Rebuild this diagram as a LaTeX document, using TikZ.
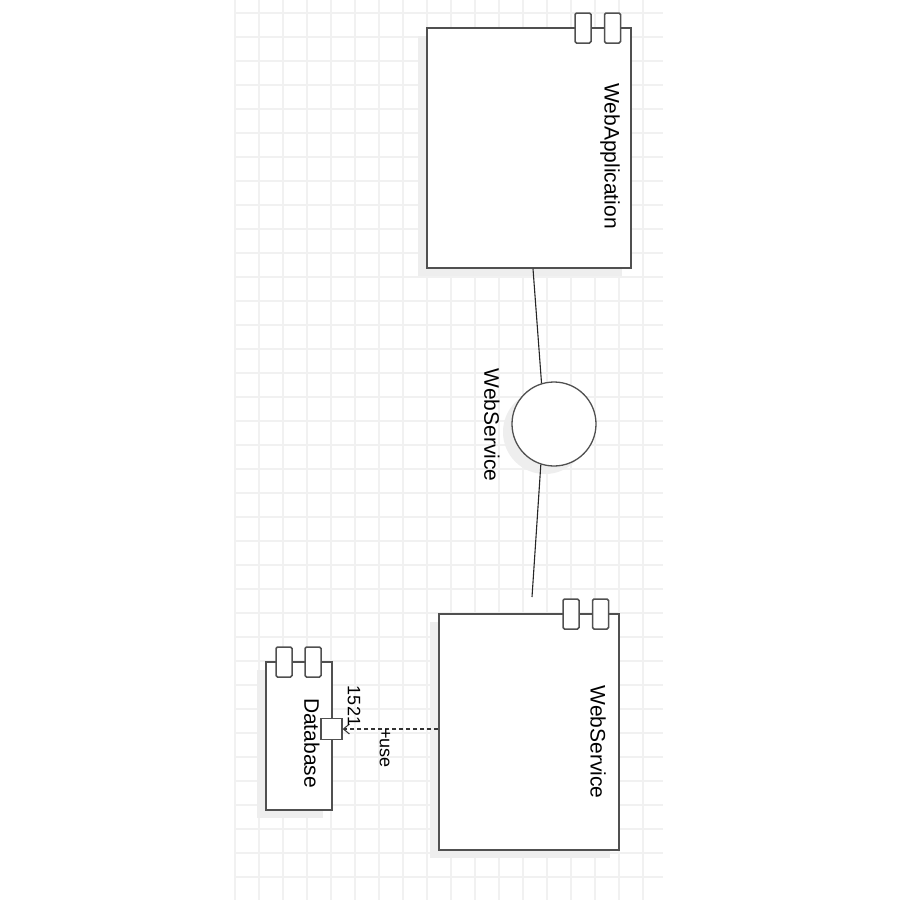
\documentclass[tikz,border=0pt]{standalone}
\usepackage{fontspec}
\setmainfont{Liberation Sans}
\usetikzlibrary{shadows,arrows.meta,calc}
\definecolor{bordercol}{HTML}{505050}
\definecolor{gridcol}{HTML}{F1F1F1}
\definecolor{shadowcol}{HTML}{EEEEEE}
\tikzset{
  gridline/.style={draw=gridcol, line width=1.1pt},
  shadowed/.style={drop shadow={shadow xshift=-9pt, shadow yshift=-8pt, fill=shadowcol, opacity=1}},
  comp/.style={draw=bordercol, line width=1.5pt, fill=white, inner sep=0pt, shadowed},
  tab/.style={draw=bordercol, line width=1.5pt, fill=white, inner sep=0pt, rounded corners=1.5pt, minimum width=16pt, minimum height=30pt},
  iface/.style={circle, draw=bordercol, line width=1.3pt, fill=white, inner sep=0pt, minimum size=84pt, shadowed},
  portbox/.style={draw=bordercol, line width=1.3pt, fill=white, inner sep=0pt, minimum size=21pt},
  vlabel/.style={rotate=-90, inner sep=0pt, font=\fontsize{21}{24}\selectfont},
  slabel/.style={rotate=-90, inner sep=0pt, font=\fontsize{18}{21}\selectfont},
  conn/.style={draw=black!85, line width=1.1pt},
  dep/.style={draw=black!80, line width=1.1pt, dash pattern=on 4pt off 3pt, -{Straight Barb[length=6pt, width=10pt, line width=1pt]}}
}
\begin{document}
\begin{tikzpicture}[x=1pt, y=-1pt]
\useasboundingbox (0,0) rectangle (900,900);
\fill[white] (0,0) rectangle (900,900);
% grid
\foreach \k in {0,...,17} { \draw[gridline] (235+24*\k,0) -- (235+24*\k,900); }
\foreach \k in {0,...,37} { \draw[gridline] (235,13+24*\k) -- (663,13+24*\k); }

% WebApplication component
\node[comp, minimum width=204pt, minimum height=240pt] (webapp) at (529,148) {};
\node[tab] (webapptabA) at (583,28) {};
\node[tab] (webapptabB) at (612.5,28) {};
\node[vlabel] (webapplabel) at (610,156) {WebApplication};

% interface
\node[iface] (circ) at (554,424) {};
\node[vlabel] (circlabel) at (492,425) {WebService};

% WebService component
\node[comp, minimum width=180pt, minimum height=236pt] (websvc) at (529,732) {};
\node[tab] (websvctabA) at (571,614) {};
\node[tab] (websvctabB) at (600.5,614) {};
\node[vlabel] (websvclabel) at (598,742) {WebService};

% Database component
\node[comp, minimum width=66pt, minimum height=148pt] (db) at (299,736) {};
\node[tab] (dbtabA) at (284,662) {};
\node[tab] (dbtabB) at (313,662) {};
\node[vlabel] (dblabel) at (312,743) {Database};

% port
\node[portbox] (port) at (331.5,729) {};

% connectors
\coordinate (wsend) at (532,597);
\draw[conn] ($(webapp.south)+(4,0)$) -- (circ.107.6);
\draw[conn] (circ.252.8) -- (wsend);
\draw[dep] (port.east -| websvc.west) -- (port.east);

% labels
\node[slabel] (portlabel) at (354,706) {1521};
\node[slabel] (uselabel) at (385,748) {+use};
\end{tikzpicture}
\end{document}
